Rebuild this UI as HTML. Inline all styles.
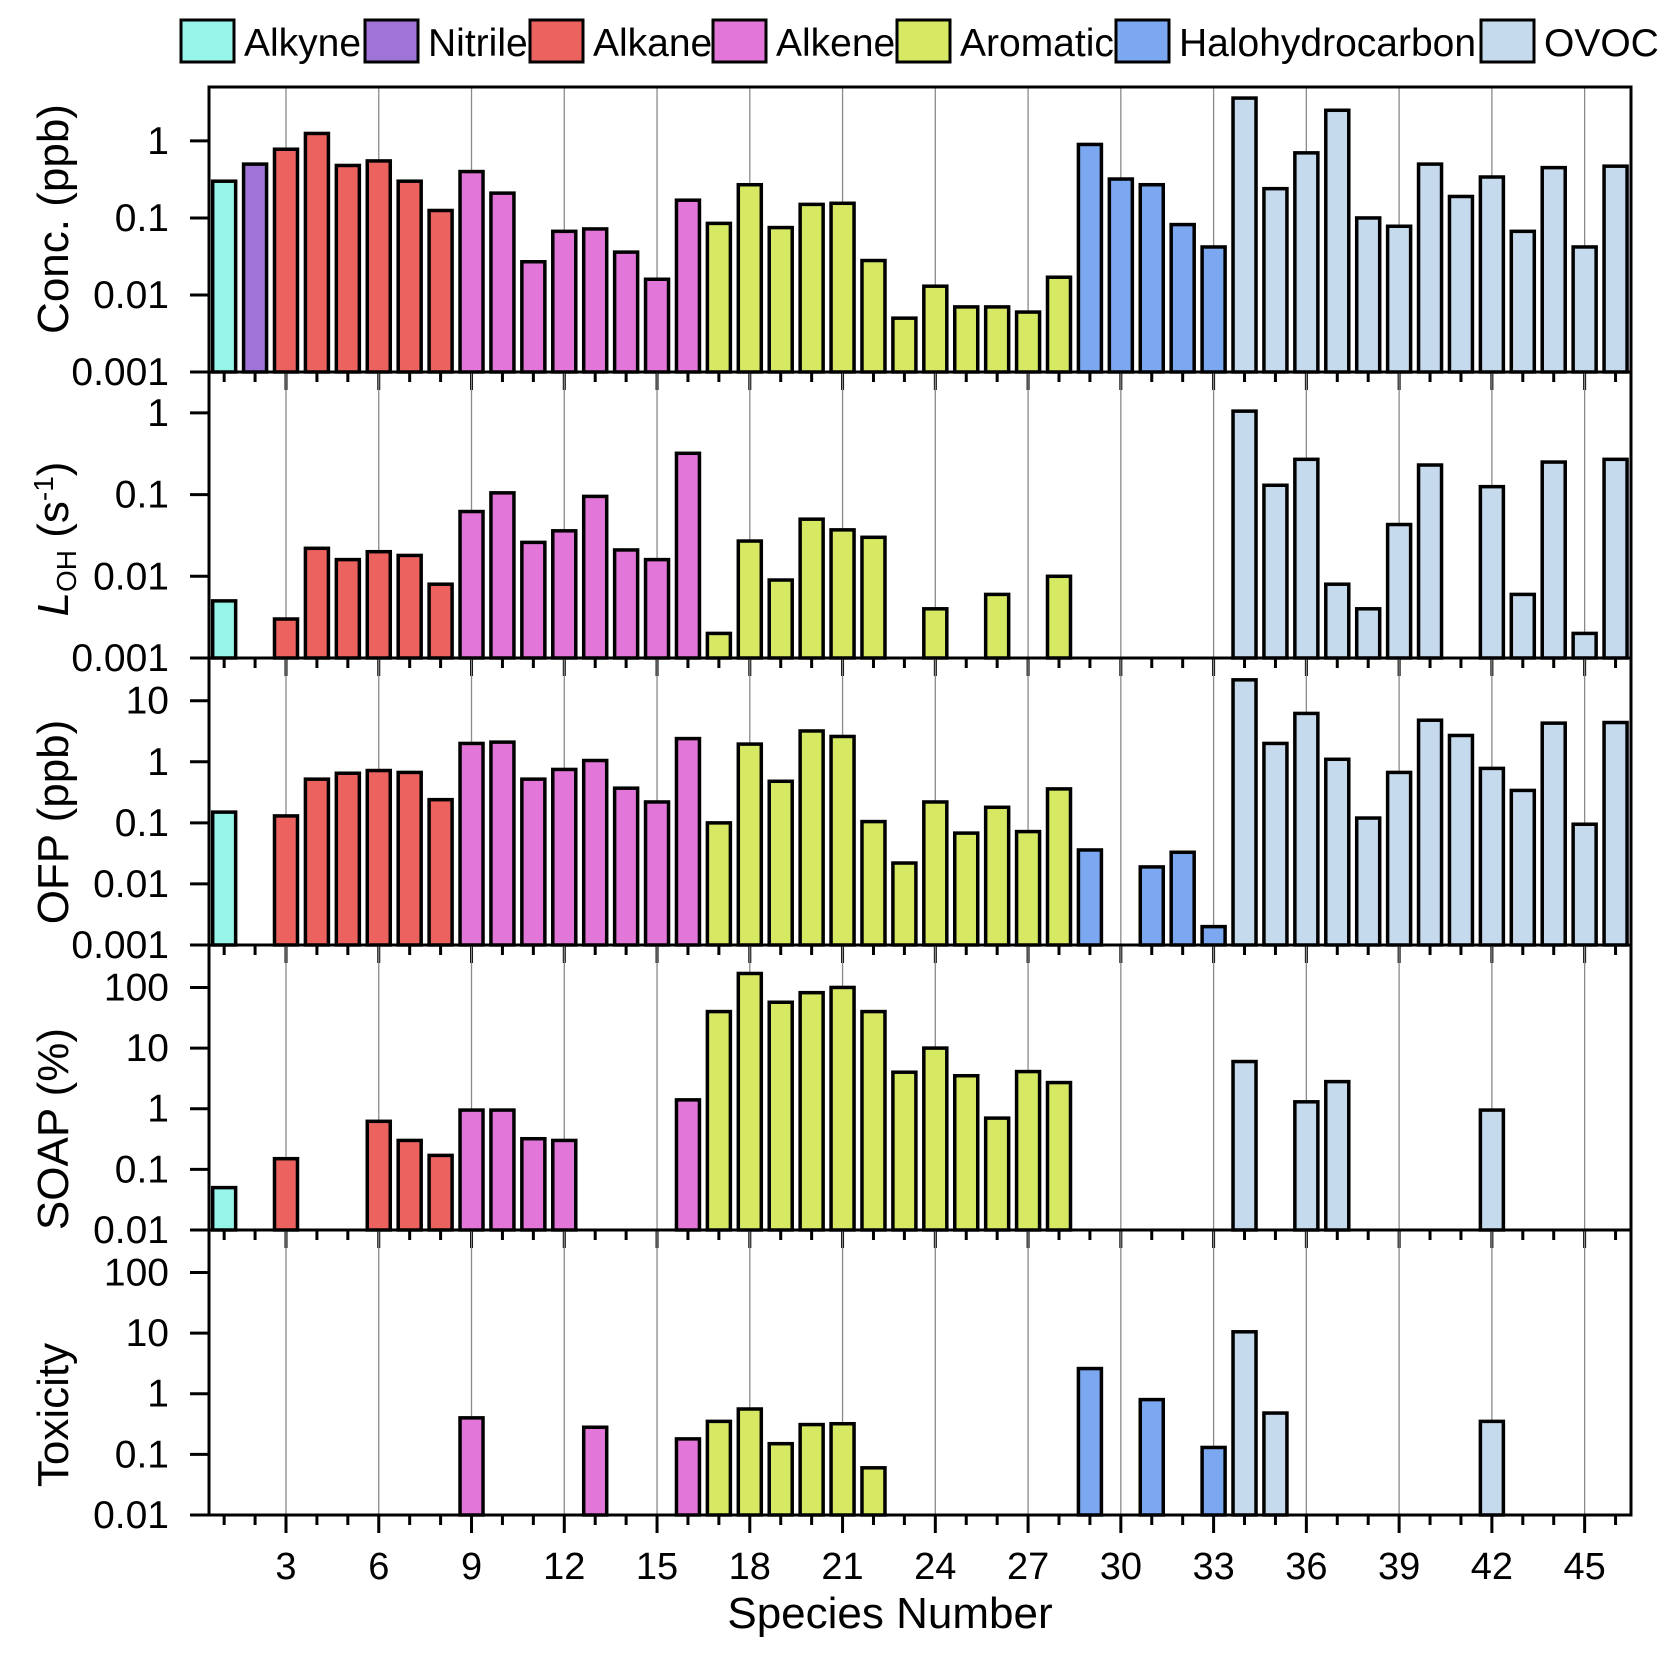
<!DOCTYPE html>
<html><head><meta charset="utf-8"><style>
html,body{margin:0;padding:0;background:#fff;}
svg{display:block;font-family:"Liberation Sans",Arial,sans-serif;}
</style></head><body>
<svg id="chart" width="1678" height="1655" viewBox="0 0 1678 1655" xmlns="http://www.w3.org/2000/svg"></svg>
<script>
const species = Array.from({length:46},(_,i)=>i+1);
const groupNames = ["Alkyne","Nitrile","Alkane","Alkene","Aromatic","Halohydrocarbon","OVOC"];
const groupColors = ["#96F5E8","#9F74D6","#EC625F","#E377D9","#D7E862","#7BA8F0","#C5DAED"];
const groupOf = [0,1,2,2,2,2,2,2,3,3,3,3,3,3,3,3,4,4,4,4,4,4,4,4,4,4,4,4,5,5,5,5,5,6,6,6,6,6,6,6,6,6,6,6,6,6];
const N = null;
const concValues = [0.3,0.5,0.78,1.25,0.48,0.55,0.3,0.125,0.4,0.21,0.027,0.067,0.072,0.036,0.016,0.17,0.085,0.27,0.075,0.15,0.155,0.028,0.005,0.013,0.007,0.007,0.006,0.017,0.9,0.32,0.27,0.082,0.042,3.6,0.24,0.7,2.5,0.1,0.078,0.5,0.19,0.34,0.067,0.45,0.042,0.47];
const lohValues = [0.005,N,0.003,0.022,0.016,0.02,0.018,0.008,0.062,0.105,0.026,0.036,0.095,0.021,0.016,0.32,0.002,0.027,0.009,0.05,0.037,0.03,N,0.004,N,0.006,N,0.01,N,N,N,N,N,1.05,0.13,0.27,0.008,0.004,0.043,0.23,N,0.125,0.006,0.25,0.002,0.27];
const ofpValues = [0.15,N,0.13,0.52,0.65,0.72,0.67,0.24,2.0,2.1,0.52,0.75,1.05,0.37,0.22,2.4,0.1,1.95,0.48,3.2,2.6,0.105,0.022,0.22,0.068,0.18,0.072,0.36,0.036,N,0.019,0.033,0.002,22,2.0,6.2,1.1,0.12,0.67,4.8,2.7,0.78,0.34,4.3,0.095,4.4];
const soapValues = [0.05,N,0.15,N,N,0.62,0.3,0.17,0.95,0.95,0.32,0.3,N,N,N,1.4,40,170,57,82,100,40,4,10,3.5,0.7,4.1,2.7,N,N,N,N,N,6,N,1.3,2.8,N,N,N,N,0.95,N,N,N,N];
const toxValues = [N,N,N,N,N,N,N,N,0.4,N,N,N,0.28,N,N,0.18,0.35,0.56,0.15,0.31,0.32,0.06,N,N,N,N,N,N,2.6,N,0.8,N,0.13,10.5,0.48,N,N,N,N,N,N,0.35,N,N,N,N];
const xTicks = [3,6,9,12,15,18,21,24,27,30,33,36,39,42,45];
const concTicks = ["0.001","0.01","0.1","1"];
const lohTicks = ["0.001","0.01","0.1","1"];
const ofpTicks = ["0.001","0.01","0.1","1","10"];
const soapTicks = ["0.01","0.1","1","10","100"];
const toxTicks = ["0.01","0.1","1","10","100"];

const svg = document.getElementById('chart');
const NS = "http://www.w3.org/2000/svg";
function mk(tag, attrs, parent){const e=document.createElementNS(NS,tag);for(const k in attrs)e.setAttribute(k,attrs[k]);(parent||svg).appendChild(e);return e;}
const L=209, R=1631;
function xS(n){return 286+(n-3)*30.92;}
const panels=[
 {name:"conc",top:87,bot:372,lo:-3,hi:0.7,vals:concValues,ticks:concTicks},
 {name:"loh",top:372,bot:658,lo:-3,hi:0.5,vals:lohValues,ticks:lohTicks},
 {name:"ofp",top:658,bot:945,lo:-3,hi:1.7,vals:ofpValues,ticks:ofpTicks},
 {name:"soap",top:945,bot:1230,lo:-2,hi:2.7,vals:soapValues,ticks:soapTicks},
 {name:"toxicity",top:1230,bot:1515,lo:-2,hi:2.7,vals:toxValues,ticks:toxTicks}
];
panels.forEach(p=>{
  const yS=v=>p.bot-(Math.log10(v)-p.lo)/(p.hi-p.lo)*(p.bot-p.top);
  const g=mk('g',{});
  
  
  xTicks.forEach(t=>{
    const gl=mk('line',{x1:xS(t),x2:xS(t),y1:p.top,y2:p.bot,stroke:'#8a8a8a','stroke-width':1.3},g);
    
    
  });
  p.vals.forEach((v,i)=>{
    if(v==null) return;
    const y=yS(v);
    const r=mk('rect',{x:xS(species[i])-11.5,y:y,width:23,height:p.bot-y,fill:groupColors[groupOf[i]],stroke:'#000','stroke-width':3.5},g);
    
    
  });
  mk('rect',{x:L,y:p.top,width:R-L,height:p.bot-p.top,fill:'none',stroke:'#000','stroke-width':3},g);
  p.ticks.forEach(t=>{
    const y=yS(parseFloat(t));
    mk('line',{x1:L-19,x2:L,y1:y,y2:y,stroke:'#000','stroke-width':3},g);
    const tx=mk('text',{x:169,y:y+13,'text-anchor':'end','font-size':39},g);
    tx.textContent=t;
    
    
  });
  species.forEach(n=>{
    const maj=xTicks.includes(n);
    mk('line',{x1:xS(n),x2:xS(n),y1:p.bot,y2:p.bot+(maj?18:10),stroke:'#000','stroke-width':3},g);
  });
});
xTicks.forEach(t=>{
  const tx=mk('text',{x:xS(t),y:1579,'text-anchor':'middle','font-size':38});
  tx.textContent=t;
  
  
});
</script>
<script>
(function(){
const svg=document.getElementById('chart');
const NS="http://www.w3.org/2000/svg";
function mk(tag,attrs,parent){const e=document.createElementNS(NS,tag);for(const k in attrs)e.setAttribute(k,attrs[k]);(parent||svg).appendChild(e);return e;}
const xt=mk('text',{x:890,y:1628,'text-anchor':'middle','font-size':44});
xt.textContent='Species Number';


const titles=[['Conc. (ppb)',219,'conc-axis-title'],['OFP (ppb)',822,'ofp-axis-title'],['SOAP (%)',1129,'soap-axis-title'],['Toxicity',1415,'toxicity-axis-title']];
titles.forEach(t=>{
  const e=mk('text',{x:0,y:0,'text-anchor':'middle','font-size':44,transform:'translate(68,'+t[1]+') rotate(-90)'});
  e.textContent=t[0];
  
  
});
const lo=mk('text',{x:0,y:0,'text-anchor':'middle','font-size':44,transform:'translate(68,539) rotate(-90)'});


const a=mk('tspan',{'font-style':'italic'},lo);a.textContent='L';
const b=mk('tspan',{'font-size':28,dy:8},lo);b.textContent='OH';
const c=mk('tspan',{dy:-8},lo);c.textContent=' (s';
const d=mk('tspan',{'font-size':28,dy:-15},lo);d.textContent='-1';
const e2=mk('tspan',{dy:15},lo);e2.textContent=')';
const names=["Alkyne","Nitrile","Alkane","Alkene","Aromatic","Halohydrocarbon","OVOC"];
const cols=["#96F5E8","#9F74D6","#EC625F","#E377D9","#D7E862","#7BA8F0","#C5DAED"];
const bx=[181,365,530,713,897,1116,1481];
names.forEach((n,i)=>{
  const g=mk('g',{});
  
  
  mk('rect',{x:bx[i],y:20,width:53,height:42,fill:cols[i],stroke:'#000','stroke-width':3},g);
  const t=mk('text',{x:bx[i]+63,y:56,'font-size':39},g);
  t.textContent=n;
});
})();
</script>
</body></html>
